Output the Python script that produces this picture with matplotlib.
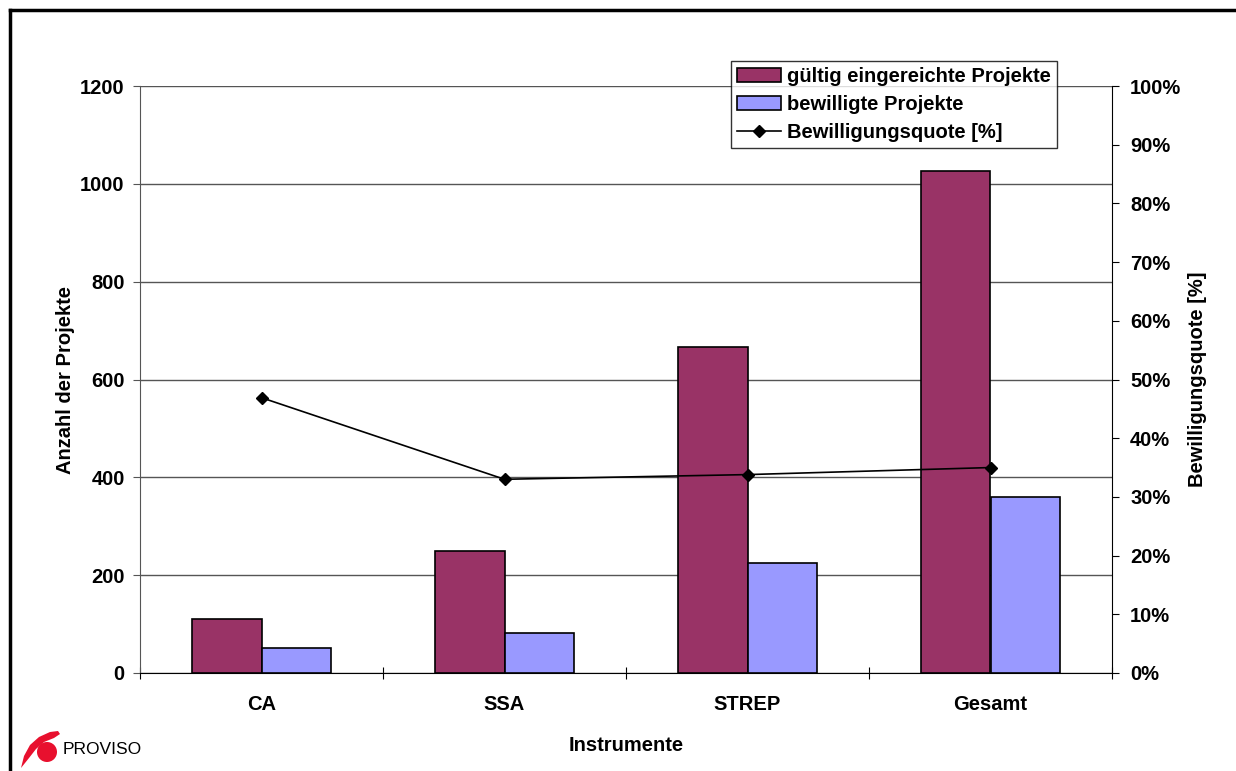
import matplotlib.pyplot as plt
from matplotlib.patches import Circle, Polygon
from matplotlib.lines import Line2D
from matplotlib.ticker import FuncFormatter

plt.rcParams['font.family'] = ['Liberation Sans', 'DejaVu Sans']

categories = ['CA', 'SSA', 'STREP', 'Gesamt']
eingereicht = [110, 249, 666, 1026]
bewilligt = [51, 82, 225, 360]
quote = [46.9, 33.0, 33.8, 35.0]

FS = 14.5

fig = plt.figure(figsize=(12.36, 7.71), dpi=100)
ax = fig.add_axes([140 / 1236, 1 - 673 / 771, 972 / 1236, 587 / 771])

x = list(range(len(categories)))
w = 0.2857
ax.bar([i - w / 2 for i in x], eingereicht, w, color='#993366', edgecolor='black', lw=1.2,
       label='gültig eingereichte Projekte', zorder=3)
ax.bar([i + w / 2 for i in x], bewilligt, w, color='#9999ff', edgecolor='black', lw=1.2,
       label='bewilligte Projekte', zorder=3)

ax.set_xlim(-0.5, 3.5)
ax.set_ylim(0, 1200)
ax.set_yticks(range(0, 1201, 200))
ax.yaxis.grid(True, color='#555555', lw=1)
ax.set_axisbelow(True)
for s in ['top', 'right']:
    ax.spines[s].set_visible(False)
ax.spines['left'].set_color('#555555')
ax.spines['bottom'].set_color('black')

# x ticks at category boundaries, labels centred
ax.set_xticks([-0.5, 0.5, 1.5, 2.5, 3.5])
ax.set_xticklabels([])
ax.set_xticks(x, minor=True)
ax.set_xticklabels(categories, minor=True, fontsize=FS, fontweight='bold')
ax.tick_params(axis='x', which='minor', length=0, pad=16)
ax.tick_params(axis='x', which='major', direction='inout', length=8)
ax.tick_params(axis='y', labelsize=FS, length=5, pad=6, colors='#555555', labelcolor='black')
for t in ax.get_yticklabels():
    t.set_fontweight('bold')

ax.set_ylabel('Anzahl der Projekte', fontsize=FS, fontweight='bold', labelpad=4)
ax.set_xlabel('Instrumente', fontsize=FS, fontweight='bold', labelpad=16)

ax2 = ax.twinx()
ax2.plot(x, quote, color='black', lw=1.2, marker='D', ms=6, label='Bewilligungsquote [%]', zorder=4)
ax2.set_ylim(0, 100)
ax2.set_yticks(range(0, 101, 10))
ax2.yaxis.set_major_formatter(FuncFormatter(lambda v, p: f'{int(v)}%'))
ax2.tick_params(axis='y', labelsize=FS, length=5, pad=8)
for t in ax2.get_yticklabels():
    t.set_fontweight('bold')
for s in ['top', 'left', 'bottom']:
    ax2.spines[s].set_visible(False)
ax2.set_ylabel('Bewilligungsquote [%]', fontsize=FS, fontweight='bold', labelpad=5)

h1, l1 = ax.get_legend_handles_labels()
h2, l2 = ax2.get_legend_handles_labels()
leg = ax2.legend(h1 + h2, l1 + l2, loc='upper left', bbox_to_anchor=(591 / 972, 1 + 25 / 587),
                 prop={'weight': 'bold', 'size': FS}, frameon=True, fancybox=False,
                 edgecolor='black', handlelength=2.2, handletextpad=0.3,
                 borderpad=0.3, labelspacing=0.45, borderaxespad=0)
leg.get_frame().set_linewidth(1)

# outer frame lines (top and left)
fig.add_artist(Line2D([10 / 1236, 1], [1 - 10 / 771, 1 - 10 / 771], color='black', lw=2.5))
fig.add_artist(Line2D([10 / 1236, 10 / 1236], [0, 1 - 10 / 771], color='black', lw=2.5))

# PROVISO logo (pixel coords, y down)
lax = fig.add_axes([15 / 1236, 1 - 771 / 771, 50 / 1236, 45 / 771])
lax.set_xlim(15, 65)
lax.set_ylim(771, 726)
lax.axis('off')
lax.add_patch(Polygon([(21, 768), (24, 756), (30, 745), (39, 737), (50, 732), (58, 731), (60, 734),
                       (54, 738), (44, 742), (36, 749), (29, 758)],
                      closed=True, color='#e8102e', lw=0))
lax.add_patch(Circle((47, 752), 10, color='#e8102e', lw=0))
fig.text(63 / 1236, 1 - 749 / 771, 'PROVISO', fontsize=12.5,
         family=['Liberation Sans Narrow', 'Liberation Sans'], va='center', ha='left')

fig.savefig('out.png', dpi=100)
